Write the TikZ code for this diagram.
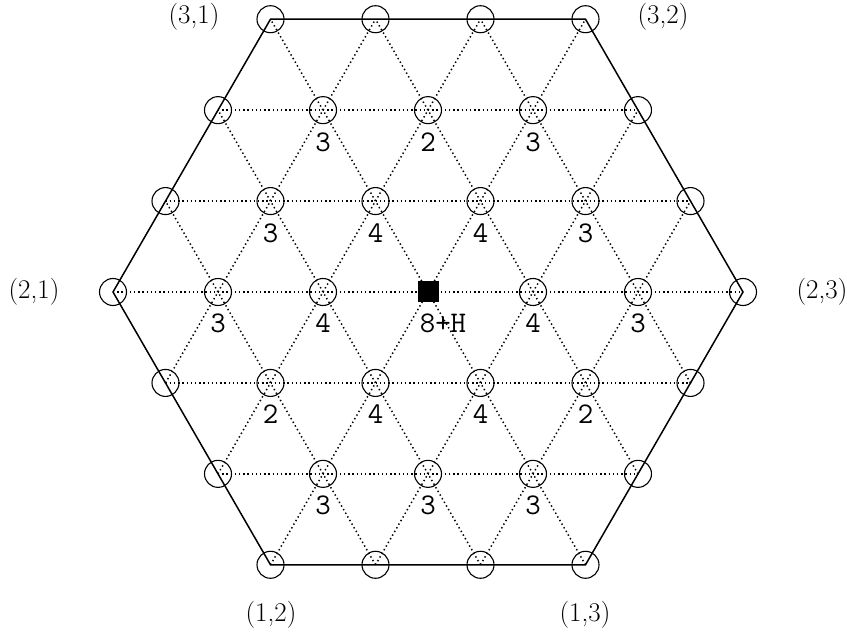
\documentclass[tikz,border=0pt]{standalone}
\begin{document}
\begin{tikzpicture}[x=1pt,y=1pt,
  dotline/.style={line width=1.5pt,dash pattern=on 1.4pt off 2.8pt},
  hexline/.style={line width=1.5pt,line join=miter},
  ptc/.style={circle,draw,line width=1.1pt,minimum size=27pt,inner sep=0pt},
  sq/.style={fill=black,minimum size=21pt,inner sep=0pt},
  lab/.style={anchor=base,inner sep=0pt,font=\fontsize{30}{30}\selectfont\ttfamily},
  corner/.style={inner sep=0pt,font=\fontsize{27}{30}\selectfont}]
\useasboundingbox (0,0) rectangle (847,633);
% lattice coordinates
\foreach \i in {-3,...,3}{
  \foreach \j in {-3,...,3}{
    \pgfmathtruncatemacro\ok{abs(\i+\j)<=3}
    \pgfmathtruncatemacro\ii{\i+3}
    \pgfmathtruncatemacro\jj{\j+3}
    \ifnum\ok=1
      \coordinate (p\ii\jj) at ({428+105*\i+52.5*\j},{341+90.93*\j});
    \fi
  }
}
% horizontal dotted lines
\foreach \j in {-2,...,2}{
  \pgfmathtruncatemacro\ja{\j+3}
  \pgfmathtruncatemacro\ia{max(-3,-3-\j)+3}
  \pgfmathtruncatemacro\ib{min(3,3-\j)+3}
  \draw[dotline] (p\ia\ja) -- (p\ib\ja);
}
% diagonal dotted lines, fixed i
\foreach \i in {-2,...,2}{
  \pgfmathtruncatemacro\ii{\i+3}
  \pgfmathtruncatemacro\ja{max(-3,-3-\i)+3}
  \pgfmathtruncatemacro\jb{min(3,3-\i)+3}
  \draw[dotline] (p\ii\ja) -- (p\ii\jb);
}
% diagonal dotted lines, fixed k=i+j
\foreach \k in {-2,...,2}{
  \pgfmathtruncatemacro\jar{max(-3,\k-3)}
  \pgfmathtruncatemacro\jbr{min(3,\k+3)}
  \pgfmathtruncatemacro\ja{\jar+3}
  \pgfmathtruncatemacro\jb{\jbr+3}
  \pgfmathtruncatemacro\ia{\k-\jar+3}
  \pgfmathtruncatemacro\ib{\k-\jbr+3}
  \draw[dotline] (p\ia\ja) -- (p\ib\jb);
}
% hexagon
\draw[hexline] (p03) -- (p06) -- (p36) -- (p63) -- (p60) -- (p30) -- cycle;
% circles
\foreach \i in {-3,...,3}{
  \foreach \j in {-3,...,3}{
    \pgfmathtruncatemacro\ok{(abs(\i+\j)<=3) && !((\i==0) && (\j==0))}
    \pgfmathtruncatemacro\ii{\i+3}
    \pgfmathtruncatemacro\jj{\j+3}
    \ifnum\ok=1
      \node[ptc] (c\ii\jj) at (p\ii\jj) {};
    \fi
  }
}
\node[sq] (center) at (p33) {};
% labels
\foreach \n/\t in {15/3,25/2,35/3,
                   14/3,24/4,34/4,44/3,
                   13/3,23/4,43/4,53/3,
                   22/2,32/4,42/4,52/2,
                   31/3,41/3,51/3}{
  \node[lab] (l\n) at ([yshift=-41pt]p\n) {\t};
}
\node[lab] (l33) at ([xshift=15pt,yshift=-41pt]p33) {8+H};
% corner labels
\node[corner] (k31) at (194,616) {(3,1)};
\node[corner] (k32) at (663,616) {(3,2)};
\node[corner] (k21) at (34,341) {(2,1)};
\node[corner] (k23) at (822,341) {(2,3)};
\node[corner] (k12) at (271,18) {(1,2)};
\node[corner] (k13) at (585,18) {(1,3)};
\end{tikzpicture}
\end{document}
